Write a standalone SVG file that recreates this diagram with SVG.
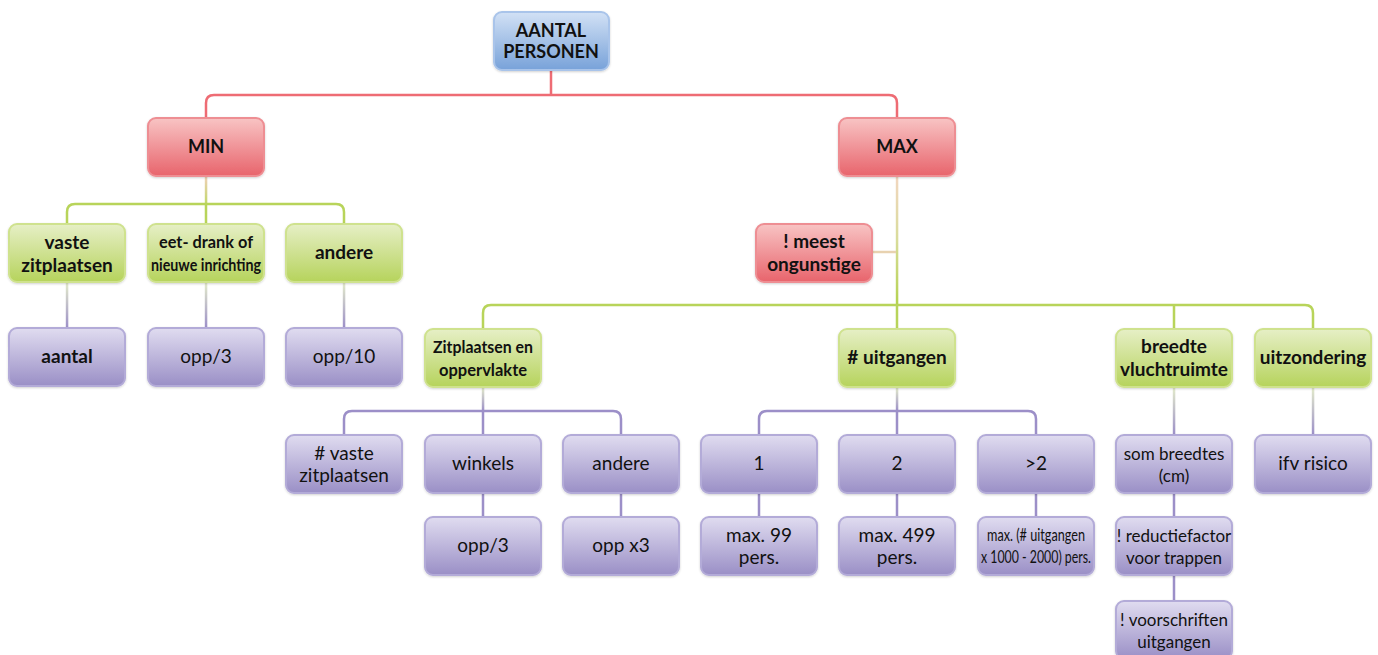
<svg xmlns="http://www.w3.org/2000/svg" width="1378" height="655" viewBox="0 0 1378 655">
<defs>
<linearGradient id="gBlue" x1="0" y1="0" x2="0" y2="1"><stop offset="0" stop-color="#d2e1f5"/><stop offset="1" stop-color="#78a2d9"/></linearGradient>
<linearGradient id="gRed" x1="0" y1="0" x2="0" y2="1"><stop offset="0" stop-color="#f8c4c4"/><stop offset="1" stop-color="#e8646c"/></linearGradient>
<linearGradient id="gGreen" x1="0" y1="0" x2="0" y2="1"><stop offset="0" stop-color="#e6efc6"/><stop offset="1" stop-color="#b6d35c"/></linearGradient>
<linearGradient id="gPurple" x1="0" y1="0" x2="0" y2="1"><stop offset="0" stop-color="#e0dcf0"/><stop offset="1" stop-color="#9a8fc6"/></linearGradient>
<linearGradient id="cRG" x1="0" y1="0" x2="0" y2="1"><stop offset="0" stop-color="#f0d0b8"/><stop offset="1" stop-color="#c2d86a"/></linearGradient>
<linearGradient id="cGP" x1="0" y1="0" x2="0" y2="1"><stop offset="0" stop-color="#e4eccb"/><stop offset="1" stop-color="#9c8fc8"/></linearGradient>
<linearGradient id="cMax" x1="0" y1="0" x2="0" y2="1"><stop offset="0" stop-color="#f2d6c0"/><stop offset="0.5" stop-color="#d8dc9a"/><stop offset="1" stop-color="#b4d24e"/></linearGradient>
<filter id="sh" x="-10%" y="-10%" width="120%" height="130%"><feDropShadow dx="0" dy="1" stdDeviation="1.2" flood-color="#000" flood-opacity="0.18"/></filter>
</defs>
<style>
.n{stroke-width:2;filter:url(#sh)}
.blue{fill:url(#gBlue);stroke:#a9c4ea}
.red{fill:url(#gRed);stroke:#ee8e93}
.green{fill:url(#gGreen);stroke:#cfe28e}
.purple{fill:url(#gPurple);stroke:#b3abd8}
text{font-family:Lato,"Open Sans","Liberation Sans",sans-serif;fill:#111;text-anchor:middle}
.b{font-weight:bold;font-size:19px}
.b18{font-weight:bold;font-size:18px}
.r{font-size:19px}
.s{font-size:17px}
.c{font-size:17px}
.lr{fill:none;stroke:#ee6c74;stroke-width:2.5}
.lg{fill:none;stroke:#b8d45a;stroke-width:2.5}
.lp{fill:none;stroke:#9c8fc8;stroke-width:2.5}
</style>
<g id="connectors">
<path class="lr" d="M206,118 V103 Q206,95 214,95 H889 Q897,95 897,103 V118 M551,70 V95"/>
<rect x="204.8" y="176" width="2.5" height="28" fill="url(#cRG)"/>
<path class="lg" d="M67,224 V212 Q67,204 75,204 H336 Q344,204 344,212 V224 M206,204 V224"/>
<rect x="65.8" y="282" width="2.5" height="46" fill="url(#cGP)"/>
<rect x="204.8" y="282" width="2.5" height="46" fill="url(#cGP)"/>
<rect x="342.8" y="282" width="2.5" height="46" fill="url(#cGP)"/>
<rect x="895.8" y="176" width="2.5" height="129" fill="url(#cMax)"/>
<path d="M872,252 H896" fill="none" stroke="#e8d2b0" stroke-width="2.5"/>
<path class="lg" d="M483,329 V313 Q483,305 491,305 H1305 Q1313,305 1313,313 V329 M897,305 V329 M1174,305 V329"/>
<rect x="481.8" y="387" width="2.5" height="24" fill="url(#cGP)"/>
<path class="lp" d="M344,435 V419 Q344,411 352,411 H613 Q621,411 621,419 V435 M483,411 V435"/>
<rect x="895.8" y="387" width="2.5" height="24" fill="url(#cGP)"/>
<path class="lp" d="M759,435 V419 Q759,411 767,411 H1028 Q1036,411 1036,419 V435 M897,411 V435"/>
<rect x="1172.8" y="387" width="2.5" height="48" fill="url(#cGP)"/>
<rect x="1311.8" y="387" width="2.5" height="48" fill="url(#cGP)"/>
<path class="lp" d="M483,493 V517 M621,493 V517 M759,493 V517 M897,493 V517 M1036,493 V517 M1174,493 V517 M1174,575 V601"/>
</g>
<g id="n-aantal-personen"><rect class="n blue" x="494" y="12" width="115" height="58" rx="8"/><text class="b18" x="551" y="37">AANTAL</text><text class="b18" x="551" y="58">PERSONEN</text></g>
<g id="n-min"><rect class="n red" x="148" y="118" width="116" height="58" rx="8"/><text class="b18" x="206" y="153">MIN</text></g>
<g id="n-max"><rect class="n red" x="839" y="118" width="116" height="58" rx="8"/><text class="b18" x="897" y="153">MAX</text></g>
<g id="n-vaste"><rect class="n green" x="9" y="224" width="116" height="58" rx="8"/><text class="b" x="67" y="249">vaste</text><text class="b" x="67" y="272">zitplaatsen</text></g>
<g id="n-eet"><rect class="n green" x="148" y="224" width="116" height="58" rx="8"/><text class="b c" x="206" y="248" textLength="94" lengthAdjust="spacingAndGlyphs">eet- drank of</text><text class="b c" x="206" y="271" textLength="110" lengthAdjust="spacingAndGlyphs">nieuwe inrichting</text></g>
<g id="n-andere1"><rect class="n green" x="286" y="224" width="116" height="58" rx="8"/><text class="b" x="344" y="259">andere</text></g>
<g id="n-aantal"><rect class="n purple" x="9" y="328" width="116" height="58" rx="8"/><text class="b" x="67" y="363">aantal</text></g>
<g id="n-opp3a"><rect class="n purple" x="148" y="328" width="116" height="58" rx="8"/><text class="r" x="206" y="363">opp/3</text></g>
<g id="n-opp10"><rect class="n purple" x="286" y="328" width="116" height="58" rx="8"/><text class="r" x="344" y="363">opp/10</text></g>
<g id="n-meest"><rect class="n red" x="756" y="224" width="116" height="58" rx="8"/><text class="b" x="814" y="248">! meest</text><text class="b" x="814" y="271">ongunstige</text></g>
<g id="n-zit"><rect class="n green" x="425" y="329" width="116" height="58" rx="8"/><text class="b c" x="483" y="353" textLength="100" lengthAdjust="spacingAndGlyphs">Zitplaatsen en</text><text class="b c" x="483" y="376" textLength="88" lengthAdjust="spacingAndGlyphs">oppervlakte</text></g>
<g id="n-uitg"><rect class="n green" x="839" y="329" width="116" height="58" rx="8"/><text class="b" x="897" y="364">#  uitgangen</text></g>
<g id="n-breedte"><rect class="n green" x="1116" y="329" width="116" height="58" rx="8"/><text class="b" x="1174" y="353">breedte</text><text class="b" x="1174" y="376">vluchtruimte</text></g>
<g id="n-uitz"><rect class="n green" x="1255" y="329" width="116" height="58" rx="8"/><text class="b" x="1313" y="364">uitzondering</text></g>
<g id="n-vastezit"><rect class="n purple" x="286" y="435" width="116" height="58" rx="8"/><text class="r" x="344" y="460">#  vaste</text><text class="r" x="344" y="482">zitplaatsen</text></g>
<g id="n-winkels"><rect class="n purple" x="425" y="435" width="116" height="58" rx="8"/><text class="r" x="483" y="470">winkels</text></g>
<g id="n-andere2"><rect class="n purple" x="563" y="435" width="116" height="58" rx="8"/><text class="r" x="621" y="470">andere</text></g>
<g id="n-opp3b"><rect class="n purple" x="425" y="517" width="116" height="58" rx="8"/><text class="r" x="483" y="552">opp/3</text></g>
<g id="n-oppx3"><rect class="n purple" x="563" y="517" width="116" height="58" rx="8"/><text class="r" x="621" y="552">opp x3</text></g>
<g id="n-1"><rect class="n purple" x="701" y="435" width="116" height="58" rx="8"/><text class="r" x="759" y="470">1</text></g>
<g id="n-2"><rect class="n purple" x="839" y="435" width="116" height="58" rx="8"/><text class="r" x="897" y="470">2</text></g>
<g id="n-gt2"><rect class="n purple" x="978" y="435" width="116" height="58" rx="8"/><text class="r" x="1036" y="470">&gt;2</text></g>
<g id="n-max99"><rect class="n purple" x="701" y="517" width="116" height="58" rx="8"/><text class="r" x="759" y="542">max. 99</text><text class="r" x="759" y="564">pers.</text></g>
<g id="n-max499"><rect class="n purple" x="839" y="517" width="116" height="58" rx="8"/><text class="r" x="897" y="542">max. 499</text><text class="r" x="897" y="564">pers.</text></g>
<g id="n-maxn"><rect class="n purple" x="978" y="517" width="116" height="58" rx="8"/><text class="c" x="1036" y="541" textLength="98" lengthAdjust="spacingAndGlyphs">max. (# uitgangen</text><text class="c" x="1036" y="563" textLength="110" lengthAdjust="spacingAndGlyphs">x 1000 - 2000) pers.</text></g>
<g id="n-som"><rect class="n purple" x="1116" y="435" width="116" height="58" rx="8"/><text class="s" x="1174" y="460">som breedtes</text><text class="s" x="1174" y="482">(cm)</text></g>
<g id="n-red"><rect class="n purple" x="1116" y="517" width="116" height="58" rx="8"/><text class="s" x="1174" y="542">! reductiefactor</text><text class="s" x="1174" y="564">voor trappen</text></g>
<g id="n-voor"><rect class="n purple" x="1116" y="601" width="116" height="58" rx="8"/><text class="s" x="1174" y="626">! voorschriften</text><text class="s" x="1174" y="648">uitgangen</text></g>
<g id="n-ifv"><rect class="n purple" x="1255" y="435" width="116" height="58" rx="8"/><text class="r" x="1313" y="470">ifv risico</text></g>
</svg>
